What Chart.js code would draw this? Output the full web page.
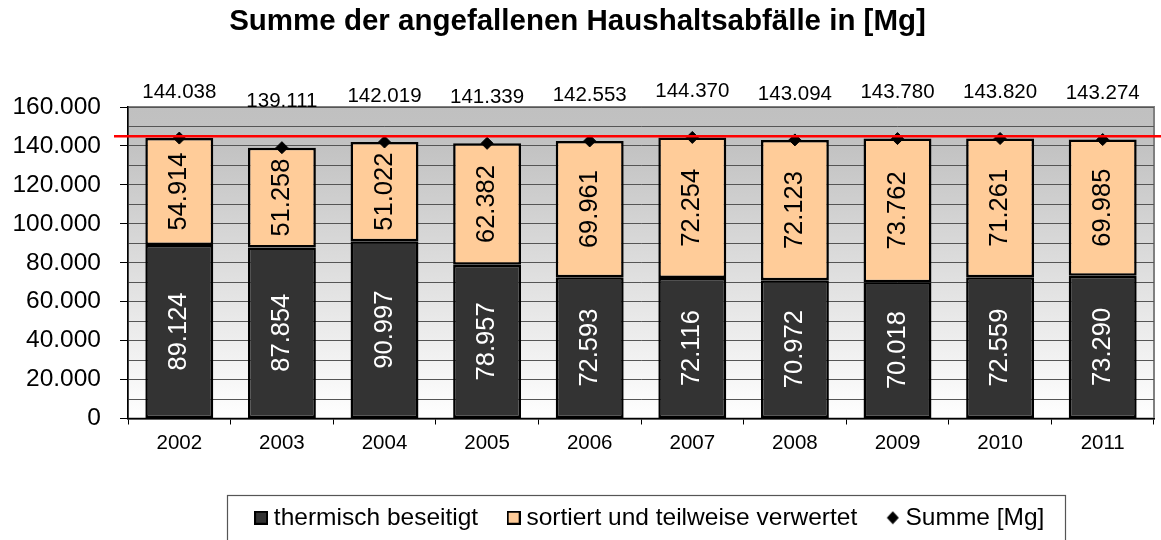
<!DOCTYPE html>
<html><head><meta charset="utf-8">
<script src="https://cdn.jsdelivr.net/npm/chart.js@4"></script>
<style>html,body{margin:0;padding:0;background:#fff}#wrap{width:1161px;height:540px}</style>
</head><body><div id="wrap"><canvas id="c" width="1161" height="540"></canvas></div>
<script>
const chartTitle = 'Summe der angefallenen Haushaltsabfälle in [Mg]';
const years = ['2002', '2003', '2004', '2005', '2006', '2007', '2008', '2009', '2010', '2011'];
const thermisch = [89124, 87854, 90997, 78957, 72593, 72116, 70972, 70018, 72559, 73290];
const sortiert = [54914, 51258, 51022, 62382, 69961, 72254, 72123, 73762, 71261, 69985];
const summe = [144038, 139111, 142019, 141339, 142553, 144370, 143094, 143780, 143820, 143274];
const seriesNames = ['thermisch beseitigt', 'sortiert und teilweise verwertet', 'Summe [Mg]'];
const yTickValues = [0, 20000, 40000, 60000, 80000, 100000, 120000, 140000, 160000];
const markerLine = [145000];

const FONT = "'Liberation Sans', Arial, sans-serif";
const fmt = v => String(Math.round(v)).replace(/\B(?=(\d{3})+(?!\d))/g, '.');

function makeIcon(kind, fill) {
  const c = document.createElement('canvas');
  c.width = 14; c.height = 14;
  const x = c.getContext('2d');
  if (kind === 'square') {
    x.fillStyle = fill; x.fillRect(1, 1, 12, 12);
    x.strokeStyle = '#000'; x.lineWidth = 2; x.strokeRect(1, 1, 12, 12);
  } else {
    x.fillStyle = '#000';
    x.beginPath(); x.moveTo(7, 0.5); x.lineTo(13, 7); x.lineTo(7, 13.5); x.lineTo(1, 7); x.closePath(); x.fill();
  }
  return c;
}
const legendIcons = [makeIcon('square', '#333333'), makeIcon('square', '#FFCC99'), makeIcon('diamond')];

const decor = {
  id: 'decor',
  afterLayout(chart) {
    const lg = chart.legend;
    if (lg) { lg.left += 75; lg.right += 75; }
  },
  beforeDraw(chart) {
    const {ctx, chartArea: a} = chart;
    ctx.save();
    const g = ctx.createLinearGradient(0, a.top, 0, a.bottom);
    g.addColorStop(0, '#c0c0c0');
    g.addColorStop(0.12, '#c2c2c2');
    g.addColorStop(1, '#ffffff');
    ctx.fillStyle = g;
    ctx.fillRect(a.left, a.top, a.right - a.left, a.bottom - a.top);
    ctx.strokeStyle = '#808080'; ctx.lineWidth = 2;
    ctx.strokeRect(a.left, a.top, a.right - a.left, a.bottom - a.top);
    ctx.restore();
  },
  afterDatasetsDraw(chart) {
    const ctx = chart.ctx;
    ctx.save();
    [0, 1].forEach(di => {
      const meta = chart.getDatasetMeta(di);
      meta.data.forEach((bar, i) => {
        const v = chart.data.datasets[di].data[i];
        const cy = (bar.y + bar.base) / 2;
        ctx.save();
        ctx.translate(bar.x, cy);
        ctx.rotate(-Math.PI / 2);
        ctx.font = '25.5px ' + FONT;
        ctx.fillStyle = di === 0 ? '#ffffff' : '#000000';
        ctx.textAlign = 'center'; ctx.textBaseline = 'middle';
        ctx.fillText(fmt(v), 0, 0);
        ctx.restore();
      });
    });
    const sm = chart.getDatasetMeta(2);
    ctx.font = '20.5px ' + FONT;
    ctx.fillStyle = '#000';
    ctx.textAlign = 'center'; ctx.textBaseline = 'middle';
    sm.data.forEach((pt, i) => {
      ctx.fillText(fmt(chart.data.datasets[2].data[i]), pt.x, pt.y - 46);
    });
    ctx.restore();
  },
  afterDraw(chart) {
    const {ctx, chartArea: a, scales} = chart;
    ctx.save();
    const y = scales.y.getPixelForValue(markerLine[0]);
    ctx.strokeStyle = '#ff0000'; ctx.lineWidth = 2.5;
    ctx.beginPath(); ctx.moveTo(a.left - 14, y); ctx.lineTo(chart.width, y); ctx.stroke();
    const lg = chart.legend;
    if (lg && lg.legendHitBoxes && lg.legendHitBoxes.length) {
      const hb = lg.legendHitBoxes;
      const first = hb[0], last = hb[hb.length - 1];
      const left = first.left - 34;
      const right = last.left + last.width + 20;
      const top = first.top + first.height / 2 - 23;
      ctx.strokeStyle = '#555'; ctx.lineWidth = 1.2;
      ctx.strokeRect(Math.round(left) + 0.5, Math.round(top) + 0.5, Math.round(right - left), 80);
    }
    ctx.restore();
  }
};

new Chart(document.getElementById('c'), {
  type: 'bar',
  plugins: [decor],
  data: {
    labels: years,
    datasets: [
      { label: seriesNames[0], data: thermisch, backgroundColor: '#333333', borderColor: '#000', borderWidth: 2.5, borderSkipped: false, order: 1, barPercentage: 0.662, categoryPercentage: 1 },
      { label: seriesNames[1], data: sortiert, backgroundColor: '#FFCC99', borderColor: '#000', borderWidth: 2.5, borderSkipped: false, order: 1, barPercentage: 0.662, categoryPercentage: 1 },
      { type: 'line', label: seriesNames[2], data: summe, showLine: false, pointStyle: 'rectRot', pointRadius: 6, pointBackgroundColor: '#000', pointBorderColor: '#000', borderColor: '#000', backgroundColor: '#000', order: 0 }
    ]
  },
  options: {
    responsive: false,
    animation: false,
    devicePixelRatio: 1,
    events: [],
    layout: { padding: { left: 0, right: 6, top: 0, bottom: 0 } },
    plugins: {
      tooltip: { enabled: false },
      title: { display: true, text: chartTitle, color: '#000', font: { family: FONT, size: 29.5, weight: 'bold' }, padding: { top: 4, bottom: 67.6 } },
      legend: {
        position: 'bottom',
        labels: {
          usePointStyle: true,
          boxWidth: 1,
          padding: 35,
          color: '#000',
          font: { family: FONT, size: 24.5 },
          generateLabels: () => seriesNames.map((name, i) => ({
            text: name, pointStyle: legendIcons[i], datasetIndex: i, hidden: false,
            fillStyle: '#000', strokeStyle: '#000', lineWidth: 0, fontColor: '#000'
          }))
        }
      }
    },
    scales: {
      x: {
        stacked: true,
        afterFit: s => { s.height = 52; },
        grid: { offset: true, drawOnChartArea: false, tickLength: 6, color: '#000', tickColor: '#000' },
        border: { color: '#000', width: 1.5 },
        ticks: { color: '#000', font: { family: FONT, size: 20.5 }, padding: 7 }
      },
      y: {
        stacked: true,
        min: 0, max: 160000,
        afterFit: s => { s.width = 128; },
        grid: {
          color: '#555', lineWidth: 1, tickLength: 8,
          tickColor: c => (c.tick && yTickValues.includes(c.tick.value)) ? '#000' : 'rgba(0,0,0,0)'
        },
        border: { color: '#000', width: 1.5 },
        ticks: {
          stepSize: 10000, autoSkip: false, color: '#000', padding: 19,
          font: { family: FONT, size: 24.5 },
          callback: v => yTickValues.includes(v) ? fmt(v) : ''
        }
      }
    }
  }
});
</script>
</body></html>
